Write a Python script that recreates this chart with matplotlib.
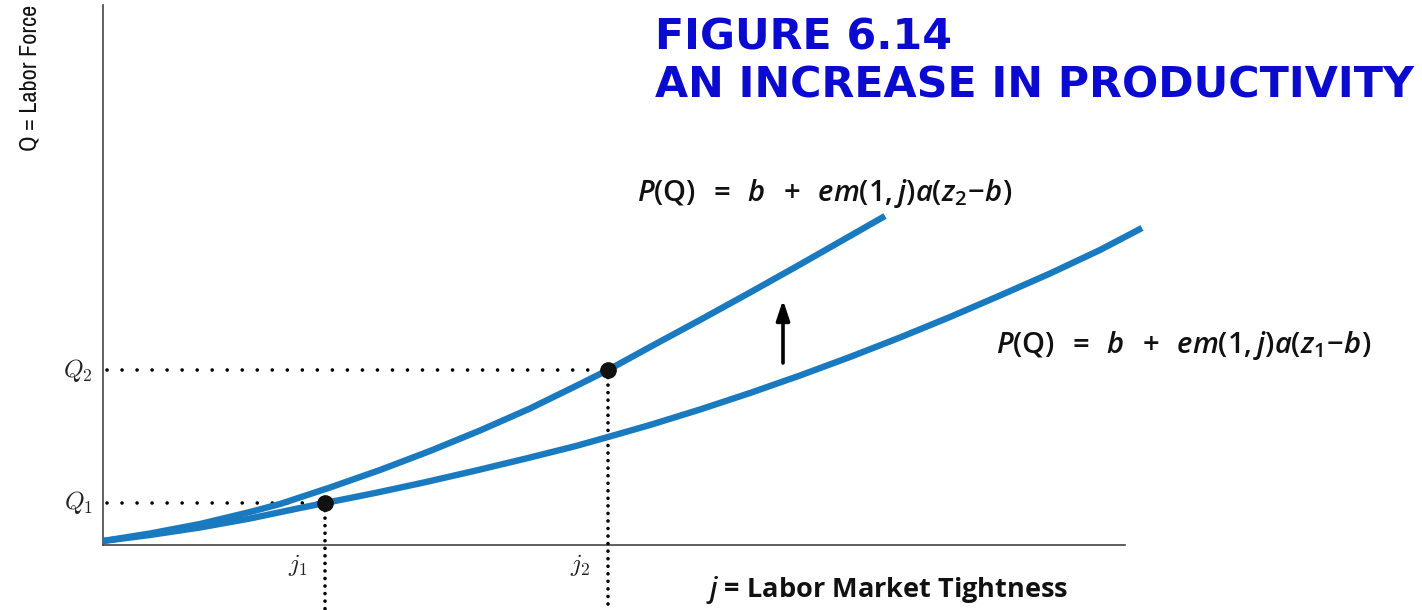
import matplotlib
matplotlib.use("Agg")
import matplotlib.pyplot as plt
from matplotlib import font_manager

# ---------------- data ----------------
# upper curve (productivity z2)
j_upper = [0.0, 0.47, 0.97, 1.47, 1.77, 2.27, 2.77, 3.27, 3.77, 4.27, 4.77,
           5.05, 5.47, 5.97, 6.47, 6.97, 7.47, 7.82]
q_upper = [0.08, 0.23, 0.42, 0.66, 0.82, 1.15, 1.50, 1.88, 2.29, 2.73, 3.22,
           3.50, 3.96, 4.50, 5.05, 5.61, 6.18, 6.58]
# lower curve (productivity z1)
j_lower = [0.0, 0.47, 0.97, 1.47, 1.97, 2.22, 2.72, 3.22, 3.72, 4.22, 4.72,
           5.05, 5.47, 5.97, 6.47, 6.97, 7.47, 7.97, 8.47, 8.97, 9.47, 9.97,
           10.39]
q_lower = [0.08, 0.20, 0.35, 0.53, 0.74, 0.84, 1.04, 1.255, 1.485, 1.725, 1.975,
           2.16, 2.40, 2.71, 3.04, 3.39, 3.76, 4.15, 4.56, 4.99, 5.43, 5.90,
           6.34]
# equilibria
eq_j = [2.22, 5.05]
eq_q = [0.84, 3.50]
q_labels = [r"$Q_1$", r"$Q_2$"]
j_labels = [r"$j_1$", r"$j_2$"]
# shift arrow
arrow_j = 6.80
arrow_q = [3.64, 4.90]

label_z2 = r"$P(\mathrm{Q})\ \,=\ \,b\ \,+\ \,em(1,j)a(z_2\!-\!b)$"
label_z1 = r"$P(\mathrm{Q})\ \,=\ \,b\ \,+\ \,em(1,j)a(z_1\!-\!b)$"
title1 = "FIGURE 6.14"
title2 = "AN INCREASE IN PRODUCTIVITY"
ylabel = "Q = Labor Force"
xlabel = r"$j$ = Labor Market Tightness"

# ---------------- style ----------------
plt.rcParams["mathtext.rm"] = "Open Sans:semibold"
plt.rcParams["mathtext.it"] = "Open Sans:italic:semibold"
plt.rcParams["mathtext.bf"] = "Open Sans:bold"

# pick a condensed face for the vertical label if one is installed
cond = None
for f in font_manager.fontManager.ttflist:
    n = f.name.lower()
    if ("narrow" in n or "condensed" in n) and "mono" not in n:
        cond = f.name
        break
ylab_family = [cond, "DejaVu Sans"] if cond else ["DejaVu Sans"]

BLUE = "#1a7abf"
TITLE = "#0a0ad0"

fig = plt.figure(figsize=(14.22, 6.10), dpi=100)
ax = fig.add_axes([0, 0, 1, 1])
ax.set_xlim(-1.03, 13.19)
ax.set_ylim(-1.30, 10.90)
ax.axis("off")

# axes lines
ax.plot([0, 0], [0, 10.8], color="#444444", lw=1.2, zorder=1)
ax.plot([0, 10.22], [0, 0], color="#444444", lw=1.2, zorder=1)

# curves
ax.plot(j_upper, q_upper, color=BLUE, lw=4.6, solid_capstyle="butt",
        solid_joinstyle="round", zorder=3)
ax.plot(j_lower, q_lower, color=BLUE, lw=4.6, solid_capstyle="butt",
        solid_joinstyle="round", zorder=3)

# dotted guides
for jj, qq in zip(eq_j, eq_q):
    ax.plot([0.04, jj], [qq, qq], color="black", lw=2.6,
            linestyle=(0, (0.01, 4.15)), dash_capstyle="round", zorder=2)
    ax.plot([jj, jj], [qq, -1.30], color="black", lw=2.6,
            linestyle=(0, (0.01, 2.08)), dash_capstyle="round", zorder=2)
    ax.plot([jj], [qq], "o", color="#111111", ms=11, zorder=4)

for qq, lab in zip(eq_q, q_labels):
    ax.text(-0.10, qq, lab, ha="right", va="center", fontsize=18,
            math_fontfamily="cm", color="#222222")
for jj, lab in zip(eq_j, j_labels):
    ax.text(jj - 0.17, -0.40, lab, ha="right", va="center", fontsize=18,
            math_fontfamily="cm", color="#222222")

# arrow
ax.annotate("", xy=(arrow_j, arrow_q[1]), xytext=(arrow_j, arrow_q[0]),
            arrowprops=dict(arrowstyle="-|>,head_length=1.2,head_width=0.4",
                            color="black", lw=2.6, shrinkA=0, shrinkB=0))

# formula labels
ax.text((825 - 103) / 100, 7.04, label_z2, ha="center", va="center",
        fontsize=21, math_fontfamily="custom", color="#111111")
ax.text((1184 - 103) / 100, 4.00, label_z1, ha="center", va="center",
        fontsize=21, math_fontfamily="custom", color="#111111")

# axis labels
ax.text((887 - 103) / 100, -0.90, xlabel, ha="center", va="center",
        fontsize=19.5, family="Open Sans", fontweight="bold",
        math_fontfamily="custom", color="#111111")
fig.text(30 / 1422, 1 - 5 / 610, ylabel, rotation=90, ha="center",
         va="top", fontsize=17.5, family=ylab_family, color="#111111")

# title
t1 = fig.text(655 / 1422, 1 - 50 / 610, title1, ha="left", va="baseline",
              fontsize=29, family="DejaVu Sans", fontweight="bold", color=TITLE)
t2 = fig.text(655 / 1422, 1 - 97 / 610, title2, ha="left", va="baseline",
              fontsize=29, family="DejaVu Sans", fontweight="bold", color=TITLE)

# fit the title width to the reference layout
fig.canvas.draw()
r = fig.canvas.get_renderer()
w = t2.get_window_extent(r).width
t2.set_fontsize(t2.get_fontsize() * 760 / w)
t1.set_fontsize(t2.get_fontsize())

fig.savefig("out.png", dpi=100, facecolor="white")
